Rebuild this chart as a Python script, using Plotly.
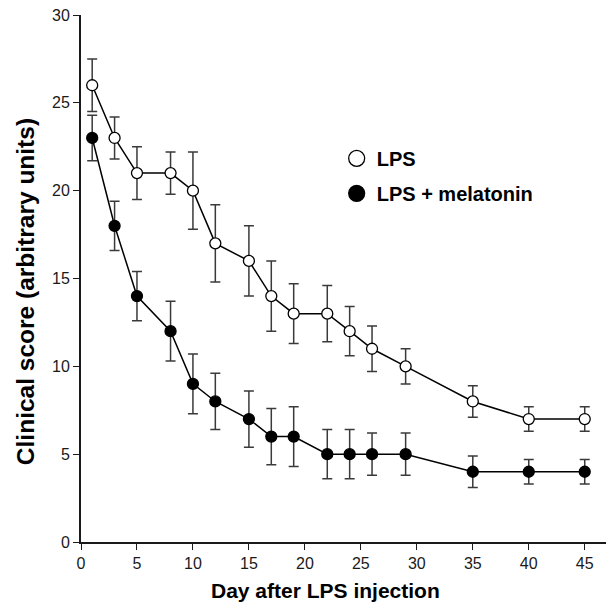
import plotly.graph_objects as go

days = [1, 3, 5, 8, 10, 12, 15, 17, 19, 22, 24, 26, 29, 35, 40, 45]
lps = [26, 23, 21, 21, 20, 17, 16, 14, 13, 13, 12, 11, 10, 8, 7, 7]
lps_err = [1.5, 1.2, 1.5, 1.2, 2.2, 2.2, 2.0, 2.0, 1.7, 1.6, 1.4, 1.3, 1.0, 0.9, 0.7, 0.7]
mel = [23, 18, 14, 12, 9, 8, 7, 6, 6, 5, 5, 5, 5, 4, 4, 4]
mel_err = [1.3, 1.4, 1.4, 1.7, 1.7, 1.6, 1.6, 1.6, 1.7, 1.4, 1.4, 1.2, 1.2, 0.9, 0.7, 0.7]
series_names = ["LPS", "LPS + melatonin"]
x_ticks = [0, 5, 10, 15, 20, 25, 30, 35, 40, 45]
y_ticks = [0, 5, 10, 15, 20, 25, 30]
x_title = "Day after LPS injection"
y_title = "Clinical score (arbitrary units)"

FONT = "Liberation Sans, Arial, sans-serif"
err_style = dict(type="data", visible=True, color="#3a3a3a", thickness=1.5, width=5)

fig = go.Figure()
fig.add_trace(go.Scatter(
    x=days, y=lps, mode="lines+markers", showlegend=False,
    line=dict(color="black", width=1.5),
    marker=dict(symbol="circle", size=11, color="white", line=dict(color="black", width=1.3)),
    error_y=dict(array=lps_err, **err_style),
))
fig.add_trace(go.Scatter(
    x=days, y=mel, mode="lines+markers", showlegend=False,
    line=dict(color="black", width=1.5),
    marker=dict(symbol="circle", size=11, color="black", line=dict(color="black", width=1.3)),
    error_y=dict(array=mel_err, **err_style),
))
# legend entries (markers only)
fig.add_trace(go.Scatter(
    x=[None], y=[None], mode="markers", name=series_names[0], legendgroup="a",
    marker=dict(symbol="circle", size=16, color="white", line=dict(color="black", width=1.3)),
))
fig.add_trace(go.Scatter(
    x=[None], y=[None], mode="markers", name=series_names[1], legendgroup="b",
    marker=dict(symbol="circle", size=16, color="black", line=dict(color="black", width=1.3)),
))

fig.update_layout(
    width=606, height=602,
    margin=dict(l=81, r=0, t=15, b=60),
    plot_bgcolor="white", paper_bgcolor="white",
    font=dict(family=FONT, color="#1a1a1a", size=16),
    showlegend=True,
    legend=dict(
        x=0.487, y=0.765, xanchor="left", yanchor="top",
        font=dict(family=FONT, size=20, color="black", weight="bold"),
        bgcolor="rgba(0,0,0,0)", itemsizing="trace", tracegroupgap=6,
    ),
    xaxis=dict(
        range=[0, 46.9], tickvals=x_ticks, ticks="outside", ticklen=6, tickwidth=1.3,
        tickcolor="#1a1a1a", showline=True, linecolor="#1a1a1a", linewidth=1.8,
        showgrid=False, zeroline=False,
        tickfont=dict(size=16, family=FONT, color="#1a1a1a"),
    ),
    yaxis=dict(
        range=[0, 30], tickvals=y_ticks, ticks="outside", ticklen=6, tickwidth=1.3,
        tickcolor="#1a1a1a", showline=True, linecolor="#1a1a1a", linewidth=1.8,
        showgrid=False, zeroline=False,
        tickfont=dict(size=16, family=FONT, color="#1a1a1a"),
    ),
    annotations=[
        dict(text=x_title, xref="paper", yref="paper", x=0.4657, y=-0.0915,
             xanchor="center", yanchor="middle", showarrow=False,
             font=dict(size=21, family=FONT, color="black", weight="bold")),
        dict(text=y_title, xref="paper", yref="paper", x=-0.1067, y=0.476,
             xanchor="center", yanchor="middle", textangle=-90, showarrow=False,
             font=dict(size=24.5, family=FONT, color="black", weight="bold")),
    ],
)

fig.write_html("out.html")
